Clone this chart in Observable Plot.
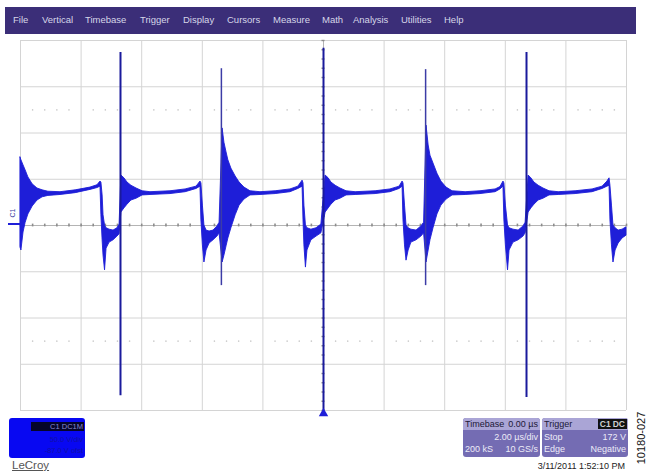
<!DOCTYPE html>
<html>
<head>
<meta charset="utf-8">
<script src="https://cdn.jsdelivr.net/npm/d3@7"></script>
<script src="https://cdn.jsdelivr.net/npm/@observablehq/plot@0.6"></script>
<style>
  body { margin: 0; background: #fff; font-family: "Liberation Sans", Arial, sans-serif; }
  #wrap { position: relative; width: 649px; height: 474px; overflow: hidden; background: #fff; }
  #chart { position: absolute; left: 0; top: 0; }
  .abs { position: absolute; white-space: nowrap; }
  #menubar { left: 5px; top: 7px; width: 631px; height: 27px; background: #3b2e78; }
  .menu { font-size: 9.5px; color: #d6d6e8; top: 14px; }
  .panel { background: #746cb3; border-radius: 3px; overflow: hidden; }
  .phead { position: absolute; left: 0; top: 0; right: 0; height: 12px; background: #aaa5d6; }
  .ptxt { font-size: 9px; line-height: 11px; }
  .dark { color: #1c1838; }
  .light { color: #ecebf7; }
</style>
</head>
<body>
<div id="wrap">
  <div id="chart"></div>
</div>
<script>
// ---- data (time in µs, 2 µs/div; amplitude in divisions) ----
const gridX = [-10, -8, -6, -4, -2, 0, 2, 4, 6, 8, 10];
const gridY = [-4, -3, -2, -1, 0, 1, 2, 3, 4];
const dotLevels = [2.5, -2.5];

// trace envelope (min / max of the displayed waveform)
const envT = [
  -10.00,-9.97,-9.90,-9.83,-9.74,-9.60,-9.44,-9.27,-9.08,-8.68,-8.18,-7.69,-7.46,-7.36,-7.33,-7.29,-7.26,-7.21,-7.16,-7.06,-6.93,-6.80,-6.73,
  -6.67,-6.57,-6.47,-6.34,-6.17,-5.97,-5.71,-5.05,-4.55,-4.19,-4.06,-4.03,-3.98,-3.93,-3.86,-3.76,-3.63,-3.50,-3.43,
  -3.33,-3.27,-3.20,-3.14,-3.04,-2.90,-2.77,-2.61,-2.41,-2.08,-1.58,-1.09,-0.83,-0.69,-0.66,-0.63,-0.58,-0.53,-0.40,-0.23,-0.07,
  0.07,0.17,0.26,0.40,0.56,0.76,1.06,1.72,2.21,2.51,2.61,2.64,2.69,2.74,2.81,2.90,3.07,3.23,3.32,
  3.40,3.47,3.53,3.63,3.76,3.89,4.06,4.26,4.69,5.18,5.68,5.84,5.94,5.97,6.02,6.09,6.14,6.27,6.44,6.60,6.67,
  6.77,6.86,6.96,7.10,7.26,7.46,7.76,8.32,8.88,9.21,9.37,9.44,9.47,9.52,9.57,9.64,9.74,9.87,10.00
];
const envHi = [
  1.47,1.41,1.30,1.19,1.04,0.89,0.80,0.76,0.73,0.72,0.76,0.82,0.87,0.95,0.93,0.65,0.22,0.00,-0.06,-0.09,-0.11,-0.06,0.02,
  1.08,1.02,0.93,0.86,0.80,0.74,0.72,0.74,0.78,0.84,0.95,0.91,0.43,0.00,-0.11,-0.13,-0.11,-0.02,0.06,
  2.10,1.79,1.58,1.41,1.23,1.06,0.93,0.82,0.74,0.72,0.74,0.78,0.84,0.97,0.91,0.43,0.00,-0.06,-0.09,-0.06,0.02,
  1.08,1.02,0.93,0.86,0.80,0.74,0.72,0.74,0.78,0.84,0.95,0.91,0.43,0.00,-0.06,-0.09,-0.11,-0.02,0.06,
  2.16,1.73,1.51,1.34,1.12,0.95,0.82,0.74,0.72,0.74,0.78,0.83,0.95,0.91,0.43,0.00,-0.06,-0.09,-0.11,-0.02,0.06,
  1.08,1.02,0.93,0.86,0.80,0.74,0.72,0.74,0.78,0.84,0.95,1.02,0.86,0.43,0.00,-0.06,-0.11,-0.09,-0.04
];
const envLo = [
  -0.48,-0.54,-0.15,0.06,0.24,0.41,0.54,0.61,0.64,0.66,0.70,0.77,0.81,0.84,0.22,-0.32,-0.65,-0.97,-0.50,-0.37,-0.32,-0.24,-0.19,
  0.28,0.37,0.45,0.54,0.58,0.65,0.66,0.68,0.72,0.79,0.84,0.11,-0.43,-0.80,-0.54,-0.39,-0.32,-0.24,-0.17,
  -0.80,-0.65,-0.45,-0.28,-0.06,0.22,0.43,0.56,0.65,0.66,0.68,0.72,0.79,0.84,0.11,-0.43,-0.91,-0.54,-0.32,-0.24,-0.17,
  0.28,0.37,0.45,0.54,0.58,0.65,0.66,0.68,0.72,0.79,0.84,0.11,-0.43,-0.76,-0.54,-0.37,-0.32,-0.24,-0.17,
  -0.80,-0.54,-0.32,-0.06,0.24,0.43,0.56,0.65,0.66,0.68,0.72,0.78,0.84,0.11,-0.43,-0.97,-0.54,-0.37,-0.32,-0.24,-0.17,
  0.28,0.37,0.45,0.54,0.58,0.65,0.66,0.68,0.72,0.79,0.84,0.86,0.11,-0.43,-0.80,-0.54,-0.39,-0.28,-0.22
];

// switching spikes
const spikeT    = [-6.70, -3.37, 0, 3.37, 6.70];
const spikeHi   = [3.74, 3.39, 3.83, 3.37, 3.74];
const spikeLo   = [-3.68, -1.30, -4.0, -1.30, -3.72];
const spikeKind = ["main", "ring", "main", "ring", "main"];

const triggerT = [0];

// UI text
const menuLabels = ["File", "Vertical", "Timebase", "Trigger", "Display", "Cursors", "Measure", "Math", "Analysis", "Utilities", "Help"];
const channelLines = ["C1 DC1M", "50.0 V/div", "-87.0 V ofst"];
const timebaseRows = [["Timebase", "0.00 µs"], ["", "2.00 µs/div"], ["200 kS", "10 GS/s"]];
const triggerRows = [["Trigger", ""], ["Stop", "172 V"], ["Edge", "Negative"]];
const dateText = "3/11/2011 1:52:10 PM";
const figId = "10180-027";
const brand = "LeCroy";

// ---- layout (not data) ----
const menuLeft = [13, 42, 85, 140, 183, 227, 273, 322, 353, 401, 444];

// ---- build ----
const envelope = envT.map((t, i) => ({t, lo: envLo[i], hi: envHi[i]}));
const spikes = spikeT.map((t, i) => ({t, lo: spikeLo[i], hi: spikeHi[i], kind: spikeKind[i]}));
const minorX = d3.range(-10, 10.001, 0.4).map(v => +v.toFixed(2));
const minorY = d3.range(-4, 4.001, 0.2).map(v => +v.toFixed(2));
const dotted = dotLevels.flatMap(y => minorX.filter(x => Math.abs(x / 2 - Math.round(x / 2)) > 0.01).map(x => ({x, y})));

const blue = "#1e1ed8";

const plot = Plot.plot({
  width: 649, height: 474,
  marginLeft: 20, marginRight: 23, marginTop: 40, marginBottom: 64,
  x: {domain: [-10, 10], axis: null},
  y: {domain: [-4, 4], axis: null},
  style: {background: "transparent", overflow: "visible"},
  marks: [
    Plot.ruleX(gridX, {stroke: "#d4d4d4", strokeWidth: 1}),
    Plot.ruleY(gridY, {stroke: "#d4d4d4", strokeWidth: 1}),
    Plot.ruleY([0], {stroke: "#b4b4b4", strokeWidth: 1}),
    Plot.ruleX([0], {stroke: "#b4b4b4", strokeWidth: 1}),
    Plot.ruleX(minorX, {x: d => d, y1: -0.03, y2: 0.03, stroke: "#8c8c8c", strokeWidth: 1.6}),
    Plot.ruleY(minorY, {y: d => d, x1: -0.05, x2: 0.05, stroke: "#8c8c8c", strokeWidth: 1.4}),
    Plot.dot(dotted, {x: "x", y: "y", r: 0.8, fill: "#cacaca", stroke: null}),
    Plot.areaY(envelope, {x: "t", y1: "lo", y2: "hi", fill: blue, stroke: blue, strokeWidth: 0.9}),
    Plot.ruleX(spikes.filter(d => d.kind === "ring"), {x: "t", y1: "lo", y2: "hi", stroke: "#3c3ca6", strokeWidth: 1.5}),
    Plot.ruleX(spikes.filter(d => d.kind === "main"), {x: "t", y1: "lo", y2: "hi", stroke: "#1a1a9c", strokeWidth: 2}),
    Plot.dot(triggerT, {x: d => d, frameAnchor: "bottom", dy: 3, symbol: "triangle", r: 3.5, fill: blue, stroke: null})
  ]
});
document.getElementById("chart").appendChild(plot);

const wrap = document.getElementById("wrap");
function add(html) { wrap.insertAdjacentHTML("beforeend", html); }

// menu bar
add(`<div class="abs" id="menubar"></div>`);
menuLabels.forEach((m, i) => add(`<div class="abs menu" style="left:${menuLeft[i]}px">${m}</div>`));

// channel marker
add(`<div class="abs" style="left:8px;top:223px;width:12px;height:2px;background:${blue}"></div>`);
add(`<div class="abs" style="left:12px;top:213px;font-size:7px;color:#3a3aa0;transform:translate(-50%,-50%) rotate(-90deg)">C1</div>`);

// channel descriptor box
add(`<div class="abs" style="left:9px;top:418px;width:76px;height:40px;background:#0808f2;border-radius:3px"></div>`);
add(`<div class="abs ptxt" style="left:31px;top:422px;width:52px;height:9px;background:#05052a;color:#8a8ad0;font-size:7.5px;line-height:9px;text-align:right;padding-right:1px">${channelLines[0]}</div>`);
add(`<div class="abs ptxt" style="left:30px;top:434px;width:53px;text-align:right;color:#1010a8;font-size:7.5px">${channelLines[1]}</div>`);
add(`<div class="abs ptxt" style="left:30px;top:445px;width:53px;text-align:right;color:#1010a8;font-size:7.5px">${channelLines[2]}</div>`);
add(`<div class="abs" style="left:12px;top:459px;font-size:11.5px;color:#555;text-decoration:underline">${brand}</div>`);

// timebase / trigger panels
function panel(left, width, rows, badge) {
  let h = `<div class="abs panel" style="left:${left}px;top:418px;width:${width}px;height:39px"><div class="phead"></div>`;
  rows.forEach((r, i) => {
    const cls = i === 0 ? "dark" : "light";
    const top = 1 + i * 12.5;
    if (r[0]) h += `<div class="abs ptxt ${cls}" style="left:2px;top:${top}px">${r[0]}</div>`;
    if (r[1]) h += `<div class="abs ptxt ${cls}" style="right:2px;top:${top}px">${r[1]}</div>`;
  });
  if (badge) h += `<div class="abs ptxt" style="right:1px;top:1px;height:10px;background:#111;color:#cfcfcf;padding:0 2px;font-size:8.5px;line-height:10px;font-weight:bold">C1<span style="margin-left:2px">DC</span></div>`;
  h += `</div>`;
  add(h);
}
panel(463, 77, timebaseRows, false);
panel(542, 86, triggerRows, true);

add(`<div class="abs" style="right:24px;top:461px;font-size:9px;color:#222">${dateText}</div>`);
add(`<div class="abs" style="left:641px;top:438px;font-size:11px;color:#111;transform:translate(-50%,-50%) rotate(-90deg)">${figId}</div>`);
</script>
</body>
</html>
